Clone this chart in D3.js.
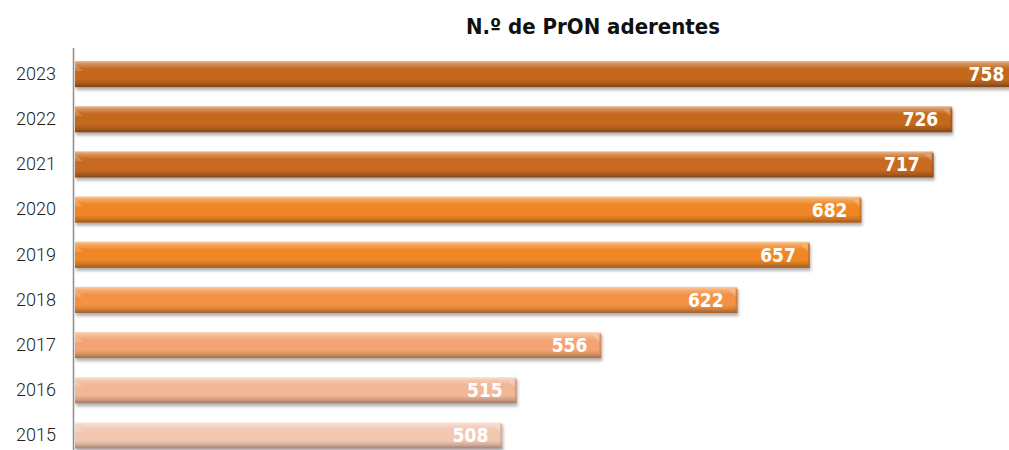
<!DOCTYPE html>
<html>
<head>
<meta charset="utf-8">
<script src="https://cdn.jsdelivr.net/npm/d3@7"></script>
<style>
  body { margin: 0; background: #fff; }
  svg { display: block; }
</style>
</head>
<body>
<div id="chart"></div>
<script>
var years = ["2023", "2022", "2021", "2020", "2019", "2018", "2017", "2016", "2015"];
var values = [758, 726, 717, 682, 657, 622, 556, 515, 508];
var title = "N.º de PrON aderentes";

// base colour of each bar, top to bottom
var barColors = ["#c4681f", "#c4681f", "#c96b20", "#f08728", "#f08728", "#f39245", "#f3a472", "#f1b797", "#f2c7b2"];

var w = 1009, h = 450;
var svg = d3.select("#chart").append("svg").attr("width", w).attr("height", h);
var defs = svg.append("defs");

var x = d3.scaleLinear().domain([300, 800]).range([73, 1105]);
var y = d3.scaleBand().domain(years).range([51.5, 458]).paddingInner(0.42).paddingOuter(0.21);

// drop shadow
var f = defs.append("filter").attr("id", "shadow").attr("x", "-5%").attr("y", "-30%").attr("width", "110%").attr("height", "180%");
f.append("feDropShadow").attr("dx", 1).attr("dy", 3).attr("stdDeviation", 1.6).attr("flood-color", "#000").attr("flood-opacity", 0.3);

barColors.forEach(function(c, i) {
  var base = d3.color(c);
  var g = defs.append("linearGradient").attr("id", "grad" + i).attr("x1", 0).attr("y1", 0).attr("x2", 0).attr("y2", 1);
  var stops = [
    [0, d3.interpolateRgb(c, "#fff")(0.55)],
    [0.12, d3.interpolateRgb(c, "#fff")(0.25)],
    [0.3, base.formatHex()],
    [0.7, base.formatHex()],
    [0.85, base.darker(0.4).formatHex()],
    [1, base.darker(1.2).formatHex()]
  ];
  stops.forEach(function(s) {
    g.append("stop").attr("offset", s[0]).attr("stop-color", s[1]);
  });
});

svg.append("text")
  .attr("x", 593).attr("y", 34)
  .attr("text-anchor", "middle")
  .attr("font-family", "'DejaVu Sans Condensed', 'DejaVu Sans', sans-serif")
  .attr("font-weight", "bold")
  .attr("font-size", 22)
  .attr("fill", "#111")
  .text(title);

var data = years.map(function(yr, i) { return { year: yr, value: values[i], i: i }; });

var bars = svg.append("g").selectAll("g.bar").data(data).enter().append("g").attr("class", "bar");

bars.append("rect")
  .attr("x", 75)
  .attr("y", function(d) { return y(d.year); })
  .attr("width", function(d) { return x(d.value) - 75; })
  .attr("height", y.bandwidth())
  .attr("fill", function(d) { return "url(#grad" + d.i + ")"; })
  .attr("filter", "url(#shadow)");

// bevelled right end
bars.append("path")
  .attr("d", function(d) {
    var x1 = x(d.value), y0 = y(d.year);
    return "M" + (x1 - 9) + "," + (y0 + 3) + "L" + (x1 - 1) + "," + (y0 + 3) + "L" + (x1 - 1) + "," + (y0 + 11) + "Z";
  })
  .attr("fill", "#fff")
  .attr("opacity", 0.22);

bars.append("rect")
  .attr("x", function(d) { return x(d.value) - 2; })
  .attr("y", function(d) { return y(d.year) + 2; })
  .attr("width", 2)
  .attr("height", y.bandwidth() - 3)
  .attr("fill", function(d) { return d3.color(barColors[d.i]).darker(0.6); })
  .attr("opacity", 0.7);

// left highlight
bars.append("path")
  .attr("d", function(d) {
    var y0 = y(d.year);
    return "M75," + (y0 + 3) + "L83," + (y0 + 10) + "L75," + (y0 + 10) + "Z";
  })
  .attr("fill", "#fff")
  .attr("opacity", 0.18);

bars.append("text")
  .attr("x", function(d) { return x(d.value) - 14; })
  .attr("y", function(d) { return y(d.year) + y.bandwidth() / 2 + 7; })
  .attr("text-anchor", "end")
  .attr("font-family", "'DejaVu Sans Condensed', 'DejaVu Sans', sans-serif")
  .attr("font-weight", "bold")
  .attr("font-size", 19)
  .attr("fill", "#fff")
  .text(function(d) { return d.value; });

var yAxis = svg.append("g").attr("transform", "translate(73,0)")
  .call(d3.axisLeft(y).tickSize(0).tickPadding(17));
yAxis.select(".domain").remove();
yAxis.selectAll("text")
  .attr("font-family", "Roboto, 'Noto Sans', sans-serif")
  .attr("font-weight", 300)
  .attr("font-size", 18)
  .attr("fill", "#222");

svg.append("line")
  .attr("x1", 73.5).attr("x2", 73.5)
  .attr("y1", 48).attr("y2", 450)
  .attr("stroke", "#8c8c8c").attr("stroke-width", 1.5);
</script>
</body>
</html>
